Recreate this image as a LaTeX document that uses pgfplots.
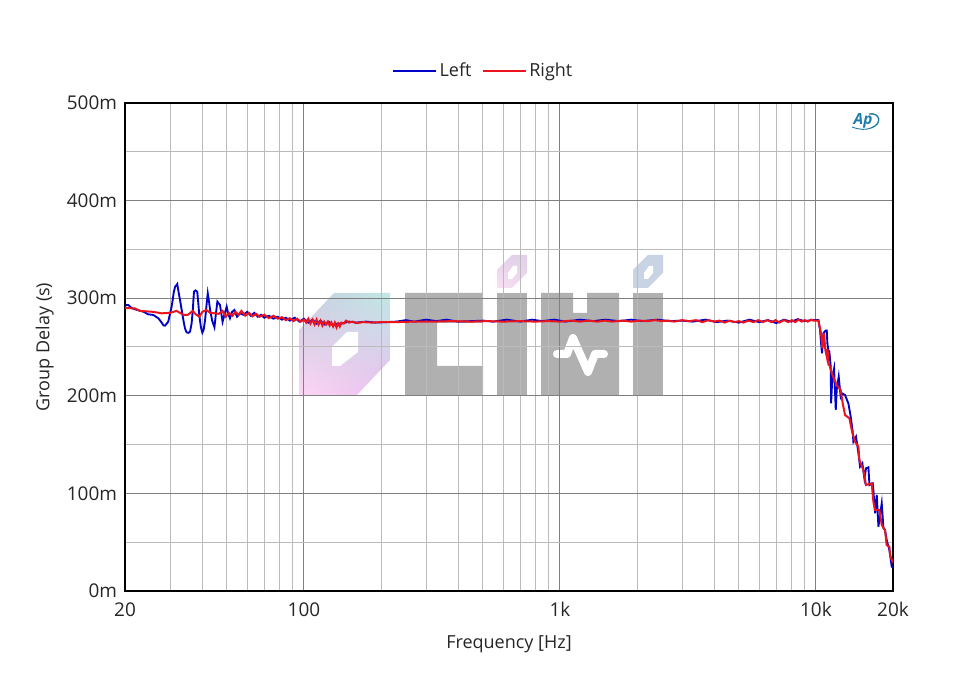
\documentclass[border=0pt]{standalone}
\usepackage{pgfplots}
\usepackage{pgfplotstable}
\usepackage{fontspec}
\usetikzlibrary{shadings}
\setmainfont{Open Sans}
\pgfplotsset{compat=1.18}
\definecolor{wmgray}{HTML}{B0B0B0}
\definecolor{minorgrid}{HTML}{BBBBBB}
\definecolor{majorgrid}{HTML}{808080}
\definecolor{apblue}{HTML}{1A7CA8}
\definecolor{wmll}{RGB}{253,214,243}
\definecolor{wmlr}{RGB}{234,190,240}
\definecolor{wmul}{RGB}{200,205,224}
\definecolor{wmur}{RGB}{192,232,228}
\definecolor{dotll}{RGB}{248,224,242}
\definecolor{dotlr}{RGB}{240,218,238}
\definecolor{dotul}{RGB}{228,210,234}
\definecolor{dotur}{RGB}{224,208,232}
\definecolor{dotblue}{RGB}{200,212,228}
\definecolor{leftblue}{RGB}{0,0,200}
\definecolor{rightred}{RGB}{235,20,30}

% hand-read traces: frequency in Hz, group delay in ms
\pgfplotstableread{
f v
20 292
20.3 293
20.6 293
21.2 290
21.9 288.6
23.6 286.2
24.6 283.5
25.8 282.8
27.0 279.4
27.8 275
28.3 272
28.7 271.9
29.5 275.9
30.0 284.5
30.4 291
30.7 298
31.0 306
31.4 311.8
31.7 313
32.0 314.5
32.3 308
32.8 298.2
33.2 290
33.8 277.7
34.3 269
34.8 265
35.4 264.5
35.9 265.7
36.4 274
36.8 287.9
37.0 298
37.2 306.7
37.7 308
38.3 306.7
38.7 294
39.0 282.8
39.6 270
40.1 264.7
40.6 268
41.1 277.7
41.6 292
42.1 305
42.6 296
43.0 287.9
43.8 277
44.7 270.2
45.3 284
45.9 296.5
47.0 293
48.1 275.9
49.0 284
49.9 291.3
50.6 284
51.4 279.4
52.4 286
53.5 287.9
54.8 281
56.3 284.5
58 283
60 286
62 282
64 285
66 281
68 283
70 280
73 282
76 279
79 281
82 278
85 280
88 277
92 280
96 276
100 279
104 275
108 278
112 274
116 277
120 273
125 276
130 272
135 274
140 274
150 276
160 275
175 276
190 275
210 275.5
230 276
250 277.5
270 276
300 278
330 276.5
360 278
400 276
450 276.5
500 277
550 276
620 278
700 276
780 278
850 276.5
950 278
1050 276
1200 278
1350 276.5
1500 278
1700 276.5
1900 278
2100 276.5
2400 278
2700 276.5
3000 277
3300 276
3700 278
4100 275.5
4500 277
5000 275
5500 278
6000 275.5
6500 277.5
7000 274.5
7500 278
8000 276
8500 278.5
9000 276.5
9770 277.7
10220 277.7
10375 267.4
10470 253.8
10560 243.5
10690 264
10880 266.7
11020 267
11080 253.8
11180 246.9
11280 245.2
11420 229.8
11460 192.3
11590 219.6
11770 228.1
11950 185.5
12050 205.9
12270 219.6
12490 199.1
12650 202.5
12990 200.8
13390 192
13670 178.6
13920 163.2
14000 153
14340 158.1
14650 141.1
14870 127.4
15180 130.8
15460 115.4
15690 125.7
16030 126.7
16180 108.6
16660 110.3
16760 103.5
17020 79.6
17280 98.4
17540 65.9
18070 89.8
18350 64.2
18610 62.5
18890 52.3
19360 42
19770 24.9
20000 24
}\lefttrace

\pgfplotstableread{
f v
20 290
21.9 289.5
22.8 287
25.8 286
27.8 284.5
30.0 285
31.8 287
33.8 283
35.2 283
36.8 287
37.6 284
39.0 281
40.1 286
41.5 288
43.0 285
45 284.5
46.5 284
48.1 287
49.5 281
51 285
52.5 282
54 286
55.5 283
57 287
59 282
61 285
63 281.5
65 284
67 281
70 283
73 279.5
76 282
79 279
82 280.5
85 277.5
88 279.5
91 276.5
94 279
97 276
100 278
102 275
104 279
106 274
108 278
110 273
112 278
114 273
116 277
118 272
120 276
122 273
124 276
126 272
128 275
130 271
132 275
134 270
136 274
138 271
140 275
143 274
146 277
150 275
155 276
160 274.5
170 275.5
185 275
200 275.5
230 275.5
270 276
320 276
380 276.5
450 276
520 276.5
600 276
700 276.5
800 276
900 276.5
1000 276
1100 277
1200 276
1300 277
1400 276
1500 277
1600 276
1750 277
1900 276
2050 277
2200 276.5
2350 277.5
2500 276.5
2650 277
2800 276
3000 277.5
3200 276.5
3400 277.5
3600 275.5
3800 277.5
4000 276
4200 277
4400 275
4600 277
4800 275.5
5000 276.5
5200 275
5450 277
5700 275.5
5950 277.5
6200 275.5
6450 277.5
6700 275.5
6950 277.5
7200 275
7500 277.5
7800 275.5
8050 277.5
8300 275.5
8550 278
8800 276
9050 277.5
9300 276
9550 278
9770 277
10220 277
10470 264
10590 248.7
10750 264
10880 246.9
11020 240.1
11100 248
11180 232
11280 231.6
11530 223
12050 211
12490 205.9
12720 192.3
12990 180.3
13510 176.9
13840 163.2
14210 153
14650 147.9
14780 134.2
15320 124
15690 108.6
16510 110.3
16760 91.5
17020 83
17690 83
18070 67.6
18610 62.5
18890 47.1
19360 45.4
19480 36.9
19890 30
20000 29
}\righttrace

\begin{document}
\begin{tikzpicture}
  \useasboundingbox (0,0) rectangle (720pt,510pt);

  % watermark, in image pixels, under the grid
  \begin{scope}[x=0.75pt,y=-0.75pt,shift={(0,510pt)}]
    \shade[lower left=wmll,lower right=wmlr,upper left=wmul,upper right=wmur]
      (299,330) -- (334,293) -- (390,293) -- (390,360) -- (356,396) -- (299,396) -- cycle;
    \fill[white] (332,347) -- (347,332) -- (358,332) -- (358,352) -- (340,366) -- (332,366) -- cycle;
    \fill[wmgray] (405,293) -- (483,293) -- (483,323) -- (437,323) -- (437,366) -- (483,366) -- (483,396) -- (405,396) -- cycle;
    \fill[wmgray] (497,293) rectangle (527,396);
    \fill[wmgray] (541,293) -- (573,293) -- (573,313) -- (587,313) -- (587,293) -- (619,293) -- (619,396) -- (541,396) -- cycle;
    \fill[wmgray] (633,293) rectangle (663,396);
    \draw[white,line width=6pt,line cap=round,line join=round]
      (557,354) -- (567,354) -- (573,338) -- (588,372) -- (595,354) -- (604,354);
    \shade[lower left=dotll,lower right=dotlr,upper left=dotul,upper right=dotur]
      (497,270) -- (512,255) -- (527,255) -- (527,273) -- (512,288) -- (497,288) -- cycle;
    \fill[white] (508,273) -- (513,266) -- (517,266) -- (517,273) -- (512,279) -- (508,279) -- cycle;
    \fill[dotblue]
      (633,270) -- (648,255) -- (663,255) -- (663,273) -- (648,288) -- (633,288) -- cycle;
    \fill[white] (644,273) -- (649,266) -- (653,266) -- (653,273) -- (648,279) -- (644,279) -- cycle;
  \end{scope}

  \begin{axis}[
      at={(93.75pt,66.75pt)},
      anchor=south west,
      scale only axis,
      width=576pt,
      height=366pt,
      xmode=log,
      xmin=20, xmax=20000,
      ymin=0, ymax=500,
      xtick={20,100,1000,10000,20000},
      xticklabels={20,100,1k,10k,20k},
      minor xtick={30,40,50,60,70,80,90,200,300,400,500,600,700,800,900,2000,3000,4000,5000,6000,7000,8000,9000},
      ytick={0,100,200,300,400,500},
      yticklabels={0m,100m,200m,300m,400m,500m},
      minor ytick={50,150,250,350,450},
      grid=both,
      major grid style={draw=majorgrid,line width=0.75pt},
      minor grid style={draw=minorgrid,line width=0.75pt},
      major tick length=0pt,
      minor tick length=0pt,
      axis line style={black,line width=1.5pt},
      tick label style={font=\fontsize{14.2}{16}\selectfont,text=black!85},
      label style={font=\fontsize{13.5}{16}\selectfont,text=black!85},
      xlabel={Frequency [Hz]},
      ylabel={Group Delay (s)},
      xticklabel style={yshift=-5pt},
      yticklabel style={xshift=-2.5pt},
      xlabel style={yshift=-7pt},
      ylabel style={yshift=3pt},
      legend columns=2,
      legend style={
        at={(0.5,1.0)},
        anchor=south,
        xshift=-19pt,
        yshift=14.2pt,
        draw=none,
        fill=none,
        text=black!85,
        font=\fontsize{13.5}{16}\selectfont,
        /tikz/every even column/.append style={column sep=6pt}
      }
    ]
    \addlegendimage{legend image code/.code={\draw[leftblue,line width=1.4pt] (0pt,0pt) -- (32pt,0pt);}}
    \addlegendentry{Left}
    \addlegendimage{legend image code/.code={\draw[rightred,line width=1.4pt] (0pt,0pt) -- (32pt,0pt);}}
    \addlegendentry{Right}
    \addplot[color=leftblue,line width=1.4pt,forget plot] table[x=f,y=v] {\lefttrace};
    \addplot[color=rightred,line width=1.5pt,forget plot] table[x=f,y=v] {\righttrace};
  \end{axis}

  % Ap badge
  \begin{scope}[x=0.75pt,y=-0.75pt,shift={(0,510pt)}]
    \node[text=apblue,font=\bfseries\itshape\fontsize{11.5}{11.5}\selectfont,inner sep=0pt] at (863,121) {Ap};
    \draw[apblue,line width=1pt] (869,114) .. controls (880,112) and (883,124) .. (871,128);
    \draw[apblue,line width=0.7pt] (852,127) .. controls (860,130) and (866,130) .. (871,128);
  \end{scope}
\end{tikzpicture}
\end{document}
